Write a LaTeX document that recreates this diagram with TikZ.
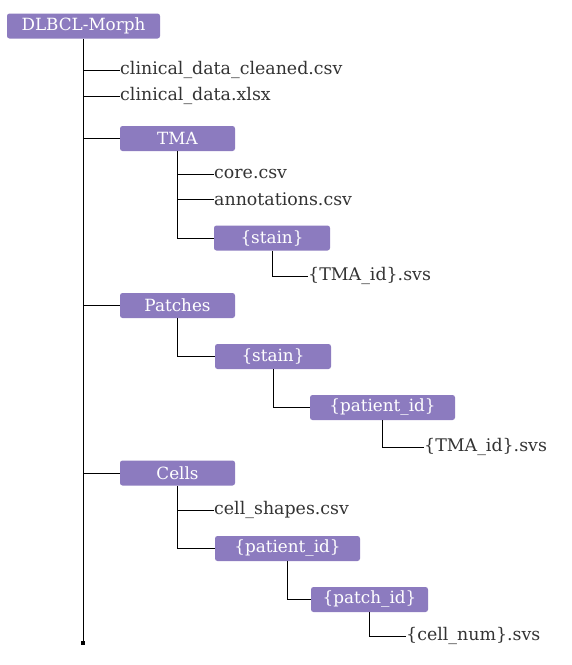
\documentclass[tikz,border=0pt]{standalone}
\usepackage{fontspec}
\setmainfont{DejaVu Serif}
\definecolor{boxpurple}{RGB}{140,123,191}
\definecolor{txtgray}{RGB}{51,51,51}
\tikzset{
  folder/.style={fill=boxpurple, rounded corners=2.5pt, text=white, inner sep=0pt,
    minimum height=25pt, font=\fontsize{16.8}{19}\selectfont},
  fileitem/.style={anchor=west, inner sep=0pt, text=txtgray, font=\fontsize{17.4}{19}\selectfont},
  conn/.style={draw=black, line width=0.9pt},
}
\begin{document}
\begin{tikzpicture}[x=1pt,y=-1pt]
\useasboundingbox (0,0) rectangle (572,665);
% folders
\node[folder, minimum width=153pt] (root) at (83.5,26) {DLBCL-Morph};
\node[folder, minimum width=115pt] (tma) at (177.5,138.5) {TMA};
\node[folder, minimum width=116pt] (stainA) at (272,238) {\{stain\}};
\node[folder, minimum width=115pt] (patches) at (177.5,305.5) {Patches};
\node[folder, minimum width=116pt] (stainB) at (273,356.5) {\{stain\}};
\node[folder, minimum width=145pt] (patA) at (382.5,407.5) {\{patient\_id\}};
\node[folder, minimum width=115pt] (cells) at (177.5,473) {Cells};
\node[folder, minimum width=145pt] (patB) at (287.5,548.5) {\{patient\_id\}};
\node[folder, minimum width=117pt] (patch) at (369.5,599.5) {\{patch\_id\}};
% files
\node[fileitem] (f1) at (120,70) {clinical\_data\_cleaned.csv};
\node[fileitem] (f2) at (120,96) {clinical\_data.xlsx};
\node[fileitem] (core) at (214,174) {core.csv};
\node[fileitem] (ann) at (214,199) {annotations.csv};
\node[fileitem] (svsA) at (308,276) {\{TMA\_id\}.svs};
\node[fileitem] (svsB) at (424,447) {\{TMA\_id\}.svs};
\node[fileitem] (shapes) at (214,510) {cell\_shapes.csv};
\node[fileitem] (cellnum) at (406,636) {\{cell\_num\}.svs};
\coordinate (trunkend) at (83,643);
% trunk
\draw[conn] (root.south -| trunkend) -- (trunkend);
\fill (trunkend) +(-2,-2) rectangle +(2,2);
\foreach \n in {f1,f2,tma,patches,cells} \draw[conn] (\n.west -| trunkend) -- (\n.west);
% TMA
\draw[conn] (tma.south) -- (stainA.west -| tma.south) -- (stainA.west);
\draw[conn] (core.west -| tma.south) -- (core.west);
\draw[conn] (ann.west -| tma.south) -- (ann.west);
\draw[conn] (stainA.south) -- (svsA.west -| stainA.south) -- (svsA.west);
% Patches
\draw[conn] (patches.south) -- (stainB.west -| patches.south) -- (stainB.west);
\draw[conn] (stainB.south) -- (patA.west -| stainB.south) -- (patA.west);
\draw[conn] (patA.south) -- (svsB.west -| patA.south) -- (svsB.west);
% Cells
\draw[conn] (cells.south) -- (patB.west -| cells.south) -- (patB.west);
\draw[conn] (shapes.west -| cells.south) -- (shapes.west);
\draw[conn] (patB.south) -- (patch.west -| patB.south) -- (patch.west);
\draw[conn] (patch.south) -- (cellnum.west -| patch.south) -- (cellnum.west);
\end{tikzpicture}
\end{document}
